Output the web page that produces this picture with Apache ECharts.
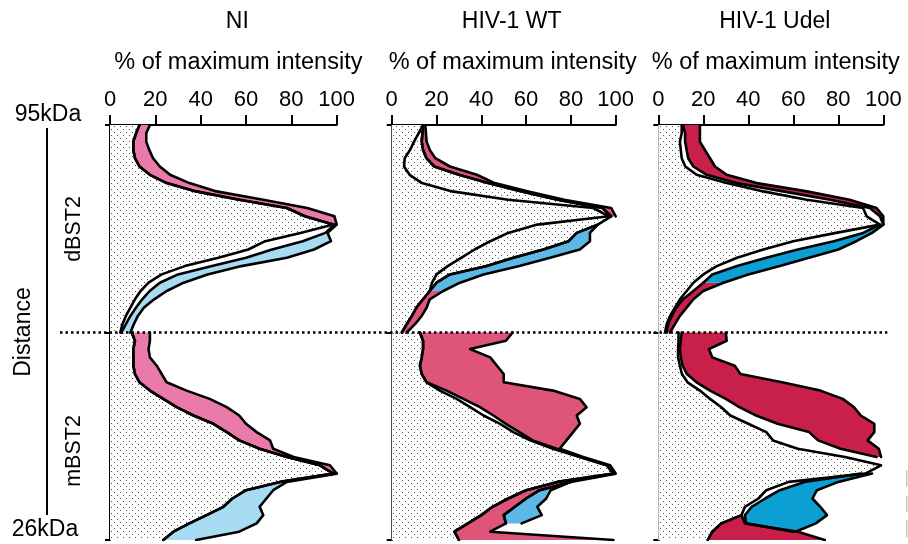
<!DOCTYPE html>
<html><head><meta charset="utf-8">
<script src="https://cdn.jsdelivr.net/npm/echarts@6/dist/echarts.min.js"></script>
<style>html,body{margin:0;padding:0;background:#fff}#c{width:908px;height:544px}</style>
</head><body><div id="c"></div>
<script>
const _ = null;
const panelTitles = ['NI', 'HIV-1 WT', 'HIV-1 Udel'];
const axisName = '% of maximum intensity';
const xTicks = [0, 20, 40, 60, 80, 100];
const dTop = [0,2,4,6,8,10,12,14,16,18,20,22,24,26,28,30,32,34,36,38,40,42,44,46,48,50];
const dBot = [50,52,54,56,58,60,62,64,66,68,70,72,74,76,78,80,82,84,86,88,90,92,94,96,98,100];

// ---- NI ----
const niTopStip    = [13,11.5,10.3,10.3,11,13,17.6,25,38,57,78,86,98.5,84,68.5,61,47.8,33,22.8,17,13.5,11,9,7,5.5,4.5];
const niTopPinkIn  = [13,11.5,10.3,10.3,11,13,17.6,25,38,57,78,86,98.5,_,_,_,_,_,_,_,_,_,_,_,_,_];
const niTopPinkOut = [17.6,16,16,17.3,19,22,26.5,35,47,67.6,87,99,100,_,_,_,_,_,_,_,_,_,_,_,_,_];
const niTopBlueIn  = [_,_,_,_,_,_,_,_,_,_,_,_,99,95,85,71.5,60,45,30,22,17.5,14.2,11.5,9,7,5];
const niTopBlueOut = [_,_,_,_,_,_,_,_,_,_,_,_,100,96,97.5,90,78,58,43,32.5,25,19.5,15,12.3,10.5,9];
const niTopExtra   = [];

const niBotStip    = [9.6,11,10.3,10.3,10.3,11,13,17.6,23.5,29.4,36.8,45.6,51.5,57,66,78,92.6,98.5,75,60,54,50,42.6,35,28,23.5];
const niBotPinkIn  = [9.6,11,10.3,10.3,10.3,11,13,17.6,23.5,29.4,36.8,45.6,51.5,57,66,78,92.6,98.5,_,_,_,_,_,_,_,_];
const niBotPinkOut = [17.6,17.6,17,17.6,20.6,22.8,25,33.8,44,51.5,57,60,64.7,70.6,72,81,97,100,_,_,_,_,_,_,_,_];
const niBotBlueIn  = [_,_,_,_,_,_,_,_,_,_,_,_,_,_,_,_,_,98.5,75,60,54,50,42.6,35,28,23.5];
const niBotBlueOut = [_,_,_,_,_,_,_,_,_,_,_,_,_,_,_,_,_,100,78,72,69,66,67.6,64.7,57,38];
const niBotExtra   = [];

// ---- HIV-1 WT ----
const wtTopStip    = [14,13.7,13.4,14,15.5,19,30,43,58,74,94,98,92,82.6,79,67.7,54.3,42.4,26,20,17,14,11,9,6.7,4.5];
const wtTopPinkIn  = [14,13.7,13.4,14,15.5,19,30,43,58,74,94,98,_,_,_,_,_,_,_,_,17,14,11,9,6.7,4.5];
const wtTopPinkOut = [15,15.3,15.6,17,19.5,26,38,46,61,77,98,100,_,_,_,_,_,_,_,_,23,17,15.6,13.4,10.4,6.7];
const wtTopBlueIn  = [_,_,_,_,_,_,_,_,_,_,_,_,92,82.6,79,67.7,54.3,42.4,26,20,17,_,_,_,_,_];
const wtTopBlueOut = [_,_,_,_,_,_,_,_,_,_,_,_,92,88.5,88.5,84,70.7,57,41,30.5,23,_,_,_,_,_];
const wtTopExtra   = [14,12,10,8.2,5.8,5.5,8,13.5,27,52,90,97,65,52,44,37,31,25,20,18,17,_,_,_,_,_];

const wtBotStip    = [12.6,14,14,13.4,12.6,13.4,15.6,21.5,29,35,41,48.4,54.3,61.8,72,84,96,99,74,60,52,45,40,34,28,30];
const wtBotPinkIn  = [12.6,14,14,13.4,12.6,13.4,15.6,24.5,32,39.4,45.4,51,57,63,73.7,84,96,99,74,60,52,45,40,34,28,30];
const wtBotPinkOut = [54,51,35,44,47,50,50,72,84,87,82.6,84,81,78,75,85.5,97.5,100,80,66,60,55,50,51,44,99];
const wtBotBlueIn  = [_,_,_,_,_,_,_,_,_,_,_,_,_,_,_,_,_,_,80,66,60,55,50,51,_,_];
const wtBotBlueOut = [_,_,_,_,_,_,_,_,_,_,_,_,_,_,_,_,_,_,80,71,69,65,67,58,_,_];
const wtBotExtra   = [];

// ---- HIV-1 Udel ----
const udTopStip    = [10.4,10.4,9.6,10,10.4,12,17,30.4,46.7,66,91,92.6,98.5,79,60,46.7,35,26,20,15.6,12.6,9.6,7.4,5.2,3.7,3];
const udTopPinkIn  = [11,11.9,11.9,12.6,13.3,15.6,21.5,34.8,55.5,76.3,94,98.5,100,_,_,_,_,_,_,20,15.6,11,8,6,4.4,3.7];
const udTopPinkOut = [18.5,18.5,18.5,20.7,23,25.2,30.4,43.7,66,85,97,100,100,_,_,_,_,_,_,29,20,15.6,12.6,9.6,7.4,5.2];
const udTopBlueIn  = [_,_,_,_,_,_,_,_,_,_,_,_,98.5,91,78,62,48,35,24,20,_,_,_,_,_,_];
const udTopBlueOut = [_,_,_,_,_,_,_,_,_,_,_,_,100,95,88,80,67,54,40,29,_,_,_,_,_,_];
const udTopExtra   = [];

const udBotStip    = [9,9,8.8,8.8,9.6,10.5,13,18.5,23,28,32,40,48,51,62,83,99,92,58,48,44.5,38.5,37,28,24,22];
const udBotPinkIn  = [10.4,10,9.6,10,10.8,12.7,17,23,30,36,43.5,53,67,71,81,97,_,_,_,_,_,_,37,28,24,22];
const udBotPinkOut = [30,30.4,22.5,24,34,36.5,55,72,82,87,90,96,96,93,98,99,_,_,_,_,_,_,37,38.5,62,74];
const udBotBlueIn  = [_,_,_,_,_,_,_,_,_,_,_,_,_,_,_,_,_,90,65,54,47.5,41.5,38.5,39,60,_];
const udBotBlueOut = [_,_,_,_,_,_,_,_,_,_,_,_,_,_,_,_,_,95,80,70.5,68.5,72,75,70,61,_];
const udBotExtra   = [];

const halves = [
  {g:0, d:dTop, stip:niTopStip, pIn:niTopPinkIn, pOut:niTopPinkOut, bIn:niTopBlueIn, bOut:niTopBlueOut, extra:niTopExtra},
  {g:0, d:dBot, stip:niBotStip, pIn:niBotPinkIn, pOut:niBotPinkOut, bIn:niBotBlueIn, bOut:niBotBlueOut, extra:niBotExtra},
  {g:1, d:dTop, stip:wtTopStip, pIn:wtTopPinkIn, pOut:wtTopPinkOut, bIn:wtTopBlueIn, bOut:wtTopBlueOut, extra:wtTopExtra},
  {g:1, d:dBot, stip:wtBotStip, pIn:wtBotPinkIn, pOut:wtBotPinkOut, bIn:wtBotBlueIn, bOut:wtBotBlueOut, extra:wtBotExtra},
  {g:2, d:dTop, stip:udTopStip, pIn:udTopPinkIn, pOut:udTopPinkOut, bIn:udTopBlueIn, bOut:udTopBlueOut, extra:udTopExtra},
  {g:2, d:dBot, stip:udBotStip, pIn:udBotPinkIn, pOut:udBotPinkOut, bIn:udBotBlueIn, bOut:udBotBlueOut, extra:udBotExtra}
];

const pinkColors = ['#ea7aa9', '#df5579', '#c8204a'];
const blueColors = ['#a6dbf2', '#5db8e6', '#0c9fd3'];
const FONT = '"Liberation Sans", Arial, sans-serif';

// stipple pattern
const pc = document.createElement('canvas');
pc.width = 6; pc.height = 6;
const pctx = pc.getContext('2d');
pctx.fillStyle = '#fff'; pctx.fillRect(0,0,6,6);
pctx.fillStyle = '#555';
pctx.fillRect(0,0,1,1); pctx.fillRect(3,3,1,1);
const stipple = {image: pc, repeat: 'repeat'};

function runs(arr) {
  const out = []; let cur = null;
  arr.forEach((v, i) => {
    if (v == null) { cur = null; return; }
    if (!cur) { cur = []; out.push(cur); }
    cur.push(i);
  });
  return out;
}
function polySeries(g, pts, fill, z) {
  return {
    type: 'custom', xAxisIndex: g, yAxisIndex: g, z: z, silent: true, animation: false,
    data: pts, encode: {x: 0, y: 1}, clip: true,
    renderItem: function (params, api) {
      if (params.dataIndex !== 0) return null;
      return {type: 'polygon', shape: {points: pts.map(p => api.coord(p))}, style: {fill: fill, stroke: null}};
    }
  };
}
function lineSeries(g, arr, d) {
  return runs(arr).map(r => ({
    type: 'line', xAxisIndex: g, yAxisIndex: g, z: 10, silent: true, animation: false,
    showSymbol: false, symbol: 'none',
    lineStyle: {color: '#000', width: 2.6, join: 'round', cap: 'round'},
    data: r.map(i => [arr[i], d[i]])
  }));
}

const series = [];
halves.forEach(h => {
  const d = h.d;
  const sp = [[0, d[0]]].concat(h.stip.map((v, i) => [v, d[i]])).concat([[0, d[d.length - 1]]]);
  series.push(polySeries(h.g, sp, stipple, 1));
  [[h.pIn, h.pOut, pinkColors[h.g]], [h.bIn, h.bOut, blueColors[h.g]]].forEach(([a, b, col]) => {
    runs(a).forEach(r => {
      const pts = r.map(i => [a[i], d[i]]).concat(r.slice().reverse().map(i => [b[i], d[i]]));
      series.push(polySeries(h.g, pts, col, 2));
    });
  });
  [h.stip, h.pIn, h.pOut, h.bIn, h.bOut, h.extra].forEach(arr => {
    if (arr.length) lineSeries(h.g, arr, d).forEach(s => series.push(s));
  });
});

const grids = [
  {left: 110, top: 125, width: 226.7, height: 415},
  {left: 391.7, top: 125, width: 224, height: 415},
  {left: 658.3, top: 125, width: 225, height: 415}
];

const chart = echarts.init(document.getElementById('c'), null, {renderer: 'canvas'});
chart.setOption({
  animation: false,
  backgroundColor: '#fff',
  grid: grids,
  xAxis: grids.map((g, i) => ({
    gridIndex: i, type: 'value', position: 'top', min: xTicks[0], max: xTicks[xTicks.length - 1], interval: 20,
    axisLine: {show: true, onZero: false, lineStyle: {color: '#000', width: 2}},
    axisTick: {show: true, length: 10, lineStyle: {color: '#000', width: 2}},
    axisLabel: {color: '#000', fontSize: 22, fontFamily: FONT, margin: 14},
    splitLine: {show: false}
  })),
  yAxis: grids.map((g, i) => ({
    gridIndex: i, type: 'value', min: 0, max: 100, interval: 50, inverse: true,
    axisLine: {show: true, onZero: false, lineStyle: {color: '#000', width: 2}},
    axisTick: {show: true, length: 5, lineStyle: {color: '#000', width: 2}},
    axisLabel: {show: false}, splitLine: {show: false}
  })),
  series: series
});

// decorations
const mid = chart.convertToPixel({xAxisIndex: 0, yAxisIndex: 0}, [0, 50])[1];
const right3 = chart.convertToPixel({xAxisIndex: 2, yAxisIndex: 2}, [100, 50])[0];
const centers = [0, 1, 2].map(i => chart.convertToPixel({xAxisIndex: i, yAxisIndex: i}, [50, 0])[0]);
const titleShift = [14, 8, 4];
function txt(text, x, y, size, rot) {
  return {type: 'text', x: x, y: y, rotation: rot || 0, z: 100,
    style: {text: text, fill: '#000', font: size + 'px ' + FONT,
      textAlign: 'center', textVerticalAlign: 'middle', align: 'center', verticalAlign: 'middle'}};
}
const gfx = [];
panelTitles.forEach((t, i) => {
  gfx.push(txt(t, centers[i] + titleShift[i], 22, 23));
  gfx.push(txt(axisName, centers[i] + titleShift[i] + 1, 63, 23.5));
});
gfx.push(txt('95kDa', 48, 115, 23));
gfx.push(txt('26kDa', 45, 530, 23));
gfx.push(txt('Distance', 24, 332, 23, Math.PI / 2));
gfx.push(txt('dBST2', 74.5, 229, 21.5, Math.PI / 2));
gfx.push(txt('mBST2', 74.5, 451, 21.5, Math.PI / 2));
gfx.push({type: 'line', z: 100, shape: {x1: 47, y1: 128, x2: 47, y2: 515}, style: {stroke: '#000', lineWidth: 2}});
gfx.push({type: 'line', z: 100, shape: {x1: 60, y1: mid, x2: right3 + 4, y2: mid}, style: {stroke: '#000', lineWidth: 2.5, lineDash: [2.5, 3]}});
[[470, 17], [496, 16], [520, 17]].forEach(([y, h]) => {
  gfx.push({type: 'rect', z: 100, shape: {x: 906, y: y, width: 1.5, height: h}, style: {fill: '#c8c8c8'}});
});
chart.setOption({graphic: gfx});
</script>
</body></html>
